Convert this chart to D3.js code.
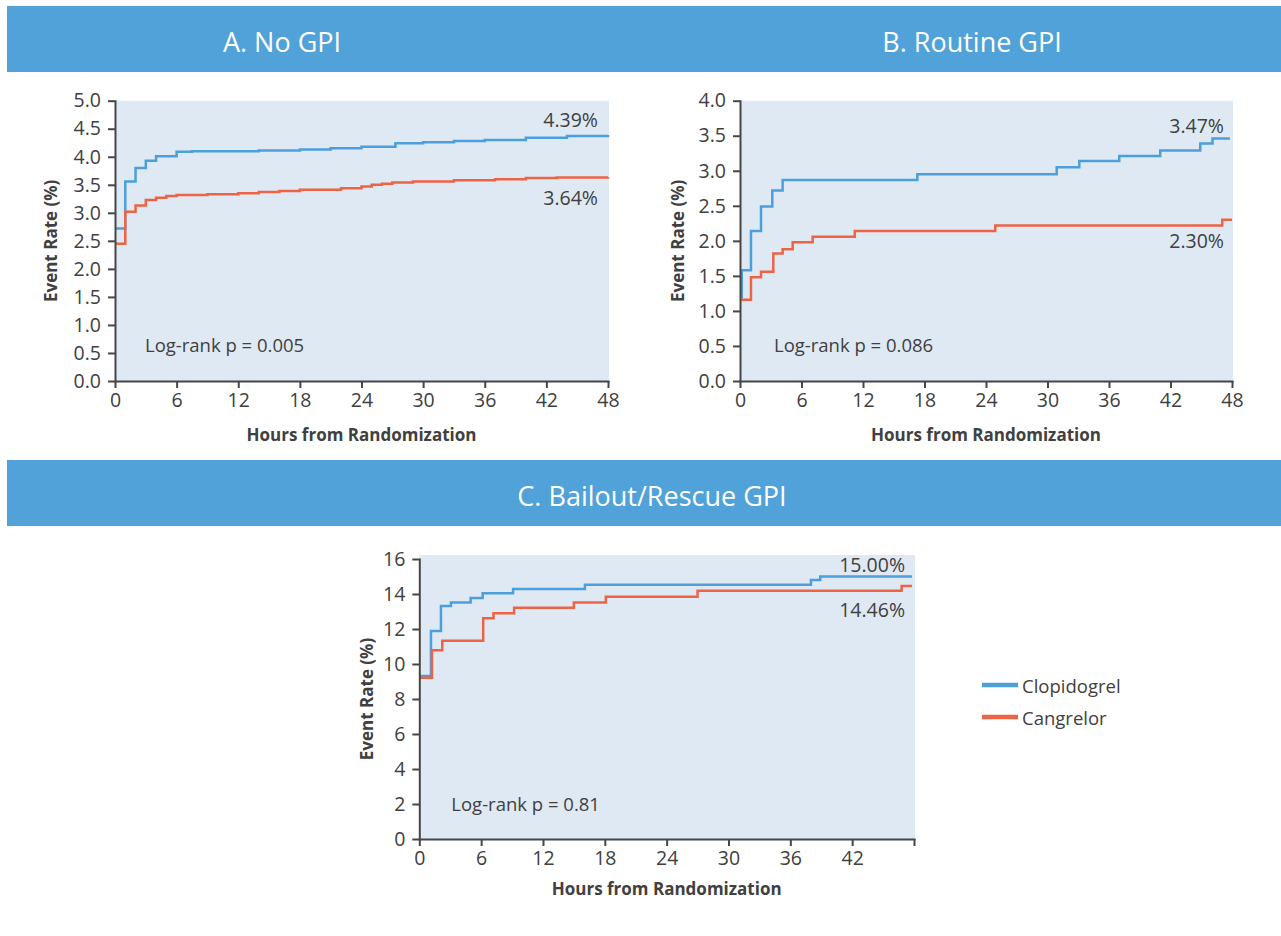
<!DOCTYPE html>
<html lang="en">

<head>
    <meta charset="UTF-8">
    <title>Event Rate by GPI Use</title>
    <style>
        html,
        body {
            background-color: white;
            margin: 0;
        }

        text {
            font-family: "Open Sans", "Noto Sans", sans-serif;
            fill: #404040;
        }

        .axis path,
        .axis line {
            stroke: #464646;
            stroke-width: 2;
        }

        .axis text {
            font-size: 19.5px;
            fill: #404040;
        }

        .title {
            fill: white;
            font-size: 27px;
        }

        .axis-label {
            font-weight: bold;
            font-size: 17px;
        }
    </style>
</head>

<body>
    <main></main>
    <script src="https://d3js.org/d3.v7.min.js"></script>
    <script>
        // - - - - - - - - - -
        // Data
        // - - - - - - - - - -
        const hourTicks = [0, 6, 12, 18, 24, 30, 36, 42, 48];
        const rateTicksA = [0, 0.5, 1, 1.5, 2, 2.5, 3, 3.5, 4, 4.5, 5];
        const rateTicksB = [0, 0.5, 1, 1.5, 2, 2.5, 3, 3.5, 4];
        const rateTicksC = [0, 2, 4, 6, 8, 10, 12, 14, 16];

        const seriesNames = ['Clopidogrel', 'Cangrelor'];
        const seriesColors = ['#4b9fda', '#ee6344'];

        const panelTitles = ['A. No GPI', 'B. Routine GPI', 'C. Bailout/Rescue GPI'];
        const logRankLabels = ['Log-rank p = 0.005', 'Log-rank p = 0.086', 'Log-rank p = 0.81'];
        const finalLabelsA = ['4.39%', '3.64%'];
        const finalLabelsB = ['3.47%', '2.30%'];
        const finalLabelsC = ['15.00%', '14.46%'];

        // [hour, event rate %]
        const noGpiClopidogrel = [[0, 2.72], [1, 3.56], [2, 3.80], [3, 3.93], [4, 4.01], [6, 4.09],
            [7.5, 4.10], [14, 4.11], [18, 4.13], [21, 4.15], [24, 4.18], [27.3, 4.24], [30, 4.26],
            [33, 4.28], [36, 4.30], [40, 4.34], [44, 4.37], [48, 4.39]];
        const noGpiCangrelor = [[0, 2.45], [1, 3.02], [2, 3.13], [3, 3.23], [4, 3.27], [5, 3.30],
            [6, 3.32], [9, 3.33], [12, 3.35], [14, 3.37], [16, 3.39], [18, 3.41], [22, 3.44],
            [24, 3.47], [25, 3.50], [26, 3.52], [27, 3.54], [29, 3.56], [33, 3.58], [37, 3.60],
            [40, 3.62], [43, 3.63], [48, 3.64]];

        const routineClopidogrel = [[0, 1.19], [0.17, 1.58], [1.07, 2.14], [2.05, 2.49], [3.15, 2.72],
            [4.16, 2.87], [17.3, 2.95], [30.9, 3.05], [33.1, 3.14], [37, 3.21], [41, 3.29],
            [44.9, 3.39], [46.1, 3.46], [47.8, 3.46]];
        const routineCangrelor = [[0, 1.16], [1.07, 1.48], [2.05, 1.56], [3.25, 1.82], [4.16, 1.88],
            [5.14, 1.98], [7.09, 2.06], [11.2, 2.14], [24.9, 2.22], [47.05, 2.30], [48, 2.30]];

        const bailoutClopidogrel = [[0, 9.31], [1.13, 11.89], [2.1, 13.31], [3.07, 13.52],
            [4.98, 13.77], [6.15, 14.04], [9.1, 14.29], [16.07, 14.53], [38.0, 14.8], [38.9, 15.0],
            [47.8, 15.0]];
        const bailoutCangrelor = [[0, 9.22], [1.23, 10.78], [2.23, 11.33], [6.2, 12.61], [7.2, 12.9],
            [9.2, 13.22], [15.0, 13.52], [18.1, 13.85], [27.0, 14.19], [46.8, 14.46], [47.8, 14.46]];

        !(function () {
            'use strict';

            let svg;
            const canvas = { width: 1281, height: 936 };

            /** Set the svg container */
            function setSvg() {
                svg = d3.select('main')
                    .append('svg')
                    .attr('width', canvas.width)
                    .attr('height', canvas.height)
                    .style('display', 'block');

                svg.append('rect')
                    .attr('width', canvas.width)
                    .attr('height', canvas.height)
                    .attr('fill', 'white');
            }

            /** Blue title bars */
            function drawHeaders() {
                const bars = [{ y: 6, titles: [[282, panelTitles[0]], [972, panelTitles[1]]] },
                    { y: 460, titles: [[652, panelTitles[2]]] }];

                bars.forEach(function (b) {
                    svg.append('rect')
                        .attr('x', 7)
                        .attr('y', b.y)
                        .attr('width', canvas.width - 7)
                        .attr('height', 66)
                        .attr('fill', '#50a2d9');

                    b.titles.forEach(function (t) {
                        svg.append('text')
                            .attr('class', 'title')
                            .attr('x', t[0])
                            .attr('y', b.y + 35)
                            .attr('text-anchor', 'middle')
                            .attr('dominant-baseline', 'central')
                            .text(t[1]);
                    });
                });
            }

            /** Draw one Kaplan-Meier style panel */
            function drawPanel(p) {
                const x = d3.scaleLinear().domain([0, 48]).range([p.left, p.right]);
                const y = d3.scaleLinear().domain([0, p.yMax]).range([p.bottom, p.top]);
                const g = svg.append('g');

                // plot background
                g.append('rect')
                    .attr('x', x(0))
                    .attr('y', y(p.yMax) - p.bgPad)
                    .attr('width', x(48) - x(0) + 1)
                    .attr('height', y(0) - y(p.yMax) + p.bgPad)
                    .attr('fill', '#dfe9f4');

                const line = d3.line()
                    .x(function (d) { return x(d[0]); })
                    .y(function (d) { return y(d[1]); })
                    .curve(d3.curveStepAfter);

                p.series.forEach(function (s, i) {
                    g.append('path')
                        .datum(s)
                        .attr('d', line)
                        .attr('fill', 'none')
                        .attr('stroke', seriesColors[i])
                        .attr('stroke-width', 2.5);
                });

                // axes
                g.append('g')
                    .attr('class', 'axis')
                    .attr('transform', 'translate(0,' + y(0) + ')')
                    .call(d3.axisBottom(x)
                        .tickValues(hourTicks)
                        .tickSize(7)
                        .tickSizeOuter(0)
                        .tickPadding(5)
                        .tickFormat(function (d) { return p.hideLastTick && d === 48 ? '' : d; }));

                g.append('g')
                    .attr('class', 'axis')
                    .attr('transform', 'translate(' + x(0) + ',0)')
                    .call(d3.axisLeft(y)
                        .tickValues(p.yTicks)
                        .tickSize(7)
                        .tickSizeOuter(0)
                        .tickPadding(7)
                        .tickFormat(p.yFormat));

                g.selectAll('.axis .domain').attr('stroke-linecap', 'square');

                // axis titles
                g.append('text')
                    .attr('class', 'axis-label')
                    .attr('x', (x(0) + x(48)) / 2)
                    .attr('y', p.xLabelY)
                    .attr('text-anchor', 'middle')
                    .text('Hours from Randomization');

                g.append('text')
                    .attr('class', 'axis-label')
                    .attr('transform', 'translate(' + p.yLabelX + ',' + (y(0) + y(p.yMax)) / 2 + ') rotate(-90)')
                    .attr('text-anchor', 'middle')
                    .attr('dominant-baseline', 'central')
                    .text('Event Rate (%)');

                // log-rank note
                g.append('text')
                    .attr('x', x(0) + p.noteDx)
                    .attr('y', p.noteY)
                    .style('font-size', '18.5px')
                    .text(p.note);

                // final values
                p.finalLabels.forEach(function (t, i) {
                    g.append('text')
                        .attr('x', p.labelRight)
                        .attr('y', p.labelY[i])
                        .attr('text-anchor', 'end')
                        .style('font-size', '19.5px')
                        .text(t);
                });
            }

            /** Legend for the two treatment arms */
            function drawLegend() {
                const lg = svg.append('g').attr('transform', 'translate(982,685)');
                seriesNames.forEach(function (n, i) {
                    lg.append('line')
                        .attr('x1', 0).attr('x2', 36)
                        .attr('y1', i * 32).attr('y2', i * 32)
                        .attr('stroke', seriesColors[i])
                        .attr('stroke-width', 4.5);
                    lg.append('text')
                        .attr('x', 40)
                        .attr('y', i * 32)
                        .attr('dominant-baseline', 'central')
                        .style('font-size', '18.5px')
                        .text(n);
                });
            }

            function main() {
                setSvg();
                drawHeaders();

                drawPanel({
                    left: 115, right: 608, top: 100.7, bottom: 381, yMax: 5, bgPad: 0,
                    yTicks: rateTicksA, yFormat: d3.format('.1f'),
                    series: [noGpiClopidogrel, noGpiCangrelor],
                    xLabelY: 441, yLabelX: 50,
                    note: logRankLabels[0], noteDx: 30, noteY: 352,
                    finalLabels: finalLabelsA, labelRight: 598, labelY: [127, 205]
                });

                drawPanel({
                    left: 740, right: 1232, top: 100.7, bottom: 381, yMax: 4, bgPad: 0,
                    yTicks: rateTicksB, yFormat: d3.format('.1f'),
                    series: [routineClopidogrel, routineCangrelor],
                    xLabelY: 441, yLabelX: 677,
                    note: logRankLabels[1], noteDx: 34, noteY: 352,
                    finalLabels: finalLabelsB, labelRight: 1224, labelY: [133, 248]
                });

                drawPanel({
                    left: 419.3, right: 914, top: 559, bottom: 839, yMax: 16, bgPad: 4,
                    yTicks: rateTicksC, yFormat: d3.format('d'),
                    series: [bailoutClopidogrel, bailoutCangrelor], hideLastTick: true,
                    xLabelY: 895, yLabelX: 366,
                    note: logRankLabels[2], noteDx: 32, noteY: 811,
                    finalLabels: finalLabelsC, labelRight: 905, labelY: [572, 617]
                });

                drawLegend();
            }

            window.addEventListener('load', main);
        }());
    </script>
</body>

</html>
